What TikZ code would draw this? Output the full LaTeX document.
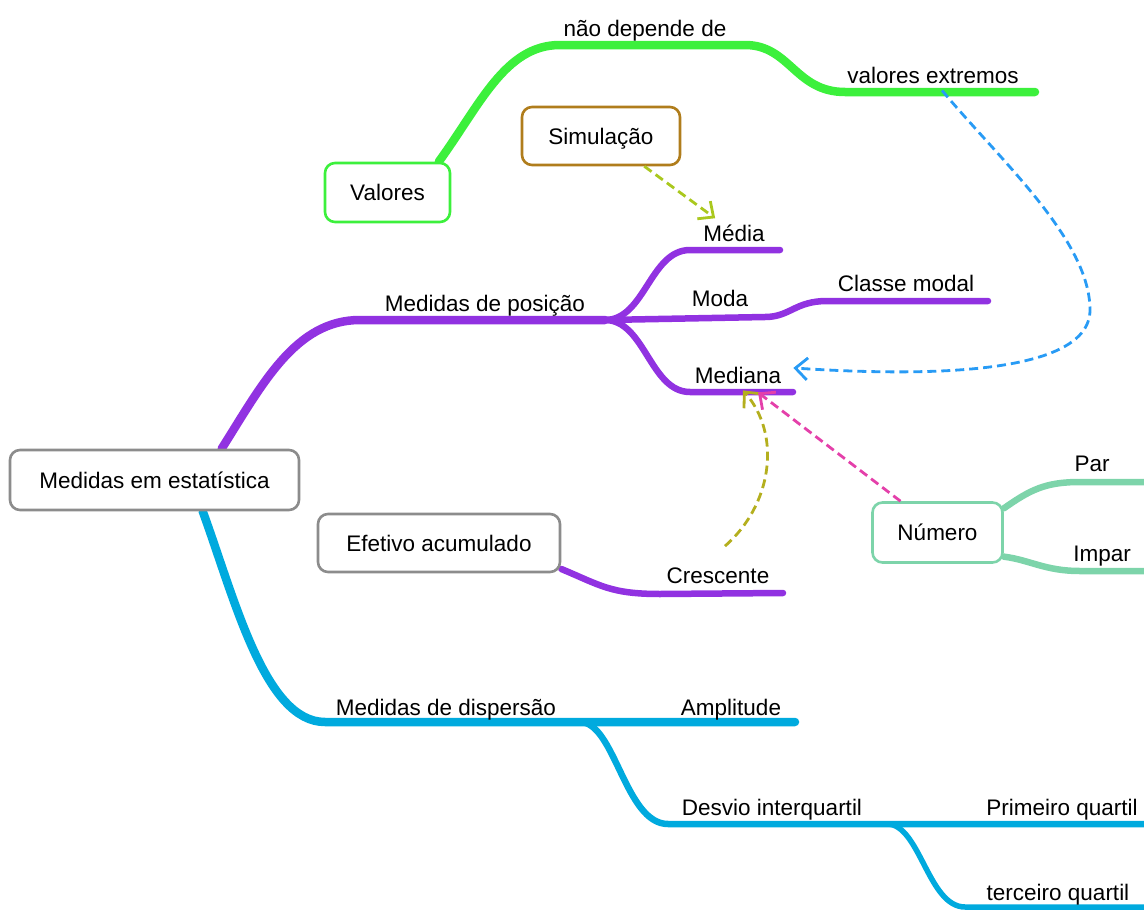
\documentclass[tikz,border=0pt]{standalone}
\usepackage{fontspec}
\setmainfont{Liberation Sans}
\usetikzlibrary{arrows.meta,backgrounds}
\definecolor{cpurple}{RGB}{145,50,225}
\definecolor{cblue}{RGB}{0,170,222}
\definecolor{cgreen}{RGB}{60,240,60}
\definecolor{cmint}{RGB}{125,212,170}
\definecolor{cbrown}{RGB}{176,125,28}
\definecolor{cgray}{RGB}{140,140,140}
\definecolor{colive}{RGB}{180,175,30}
\definecolor{cyg}{RGB}{170,200,30}
\definecolor{cpink}{RGB}{228,64,170}
\definecolor{cdblue}{RGB}{40,155,245}
\begin{document}
\begin{tikzpicture}[x=1pt,y=-1pt,
  every node/.style={font=\fontsize{22.5}{27}\selectfont},
  box/.style={draw, rounded corners=10pt, line width=2.6pt, fill=white, inner sep=0pt,
    text height=16pt, text depth=0pt, align=center},
  lbl/.style={anchor=base, inner sep=0pt},
  brA/.style={line width=8.5pt, line cap=round},
  brB/.style={line width=6.5pt, line cap=round},
  brC/.style={line width=5.5pt, line cap=round},
  rel/.style={line width=2.8pt, dash pattern=on 9pt off 5pt,
    -{Straight Barb[length=12pt,width=22pt,line width=2.8pt]}}]
\useasboundingbox (0,0) rectangle (1144,910);

% boxed nodes
\node[box, draw=cgray, minimum width=289pt, minimum height=60pt] (root) at (154.5,480) {Medidas em estatística};
\node[box, draw=cgreen, minimum width=125pt, minimum height=59pt] (val) at (387.5,192.5) {Valores};
\node[box, draw=cbrown, minimum width=158pt, minimum height=58pt] (sim) at (601,136) {Simulação};
\node[box, draw=cgray, minimum width=242pt, minimum height=58pt] (efet) at (439,543) {Efetivo acumulado};
\node[box, draw=cmint, minimum width=130pt, minimum height=60pt] (num) at (937.5,532.5) {Número};

% branch labels
\node[lbl] (nao) at (645,36) {não depende de};
\node[lbl] (valext) at (933,83) {valores extremos};
\node[lbl] (media) at (734,241) {Média};
\node[lbl] (posicao) at (485,311) {Medidas de posição};
\node[lbl] (moda) at (720,306) {Moda};
\node[lbl] (classe) at (906,291) {Classe modal};
\node[lbl] (mediana) at (738,383) {Mediana};
\node[lbl] (cresc) at (718,583) {Crescente};
\node[lbl] (par) at (1092,471) {Par};
\node[lbl] (impar) at (1102,561) {Impar};
\node[lbl] (dispersao) at (446,715) {Medidas de dispersão};
\node[lbl] (amplitude) at (731,715) {Amplitude};
\node[lbl] (desvio) at (772,815) {Desvio interquartil};
\node[lbl] (primeiro) at (1062,815) {Primeiro quartil};
\node[lbl] (terceiro) at (1058,900) {terceiro quartil};

% branch points
\coordinate (pJ) at (605,320);
\coordinate (dJ) at (580,722);
\coordinate (qJ) at (887,824);

\begin{scope}[on background layer]
  % green
  \draw[brA, cgreen] (val.31) .. controls (480,105) and (505,45) .. (560,45) -- (745,45)
        .. controls (790,45) and (795,92) .. (845,92) -- (1035,92);
  % purple
  \draw[brA, cpurple] (root.25) .. controls (262,385) and (295,320) .. (360,320) -- (pJ);
  \draw[brB, cpurple] (pJ) .. controls (645,320) and (650,250) .. (690,250) -- (780,250);
  \draw[brB, cpurple] (pJ) -- (765,317) .. controls (790,317) and (795,301) .. (827,301) -- (988,301);
  \draw[brB, cpurple] (pJ) .. controls (645,320) and (650,392) .. (690,392) -- (793,392);
  \draw[brB, cpurple] (efet.-12) .. controls (600,585) and (610,594) .. (660,594) -- (783,593);
  % blue
  \draw[brA, cblue] (root.-33) .. controls (235,600) and (265,722) .. (325,722) -- (dJ) -- (795,722);
  \draw[brB, cblue] (dJ) .. controls (615,722) and (625,824) .. (668,824) -- (qJ) -- (1160,824);
  \draw[brC, cblue] (qJ) .. controls (920,824) and (928,907) .. (965,907) -- (1160,907);
  % mint
  \draw[brB, cmint] (num.20) .. controls (1030,490) and (1045,482) .. (1080,482) -- (1160,482);
  \draw[brB, cmint] (num.-20) .. controls (1030,560) and (1045,571) .. (1080,571) -- (1160,571);
\end{scope}

% relations
\draw[rel, cyg] (sim.-35) -- ([xshift=12pt,yshift=6pt]media.north west);
\draw[rel, colive] ([xshift=7pt,yshift=21pt]cresc.north) .. controls (772,505) and (782,435) .. ([xshift=5pt,yshift=-7pt]mediana.south);
\draw[rel, cpink] ([xshift=-37pt]num.north) -- ([xshift=20pt,yshift=-9pt]mediana.south);
\draw[rel, cdblue] ([xshift=9pt,yshift=-7pt]valext.south) .. controls (1000,160) and (1090,240) .. (1090,310)
      .. controls (1090,380) and (900,375) .. ([xshift=12pt,yshift=7pt]mediana.east);
\end{tikzpicture}
\end{document}
